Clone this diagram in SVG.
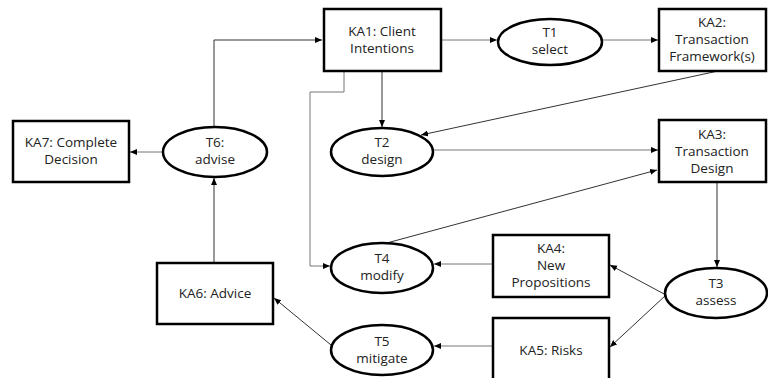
<svg xmlns="http://www.w3.org/2000/svg" width="768" height="378" viewBox="0 0 768 378">
<defs>
<marker id="ah" markerWidth="8" markerHeight="8" refX="7" refY="4" orient="auto" markerUnits="userSpaceOnUse">
<path d="M0,1 L7,4 L0,7 Z" fill="#000"/>
</marker>
<style>
.box{fill:#fff;stroke:#000;stroke-width:2.5}
.ell{fill:#fff;stroke:#000;stroke-width:2.5}
.t{font-family:"Open Sans","Liberation Sans",Arial,sans-serif;font-size:13.5px;fill:#222;text-anchor:middle}
.c{fill:none;stroke:#333;stroke-width:1;marker-end:url(#ah)}
.g{stroke:#777}
</style>
</defs>
<rect width="768" height="378" fill="#fff"/>
<g id="connectors">
<path class="c" d="M214,127 V40 H322"/>
<path class="c g" d="M441,40 H497"/>
<path class="c g" d="M602,40 H658"/>
<path class="c" d="M382,71 V127"/>
<path class="c" d="M718,71 L421,135"/>
<path class="c g" d="M433,150 H658"/>
<path class="c g" d="M344,71 V92 H310 V266 H330"/>
<path class="c" d="M383,244 L657,170"/>
<path class="c" d="M717,182 V267"/>
<path class="c" d="M666,295 L610,265"/>
<path class="c" d="M666,295 L610,347"/>
<path class="c g" d="M493,264 H434"/>
<path class="c g" d="M493,346 H434"/>
<path class="c" d="M331,345 L274,298"/>
<path class="c" d="M214,263 V178"/>
<path class="c g" d="M163,152 H130"/>
</g>
<g id="KA1"><rect class="box" x="324" y="9" width="117" height="62"/><text class="t" x="382" y="36">KA1: Client</text><text class="t" x="382" y="53">Intentions</text></g>
<g id="T1"><ellipse class="ell" cx="550" cy="42" rx="52" ry="23"/><text class="t" x="550" y="37">T1</text><text class="t" x="550" y="54">select</text></g>
<g id="KA2"><rect class="box" x="659" y="9" width="107" height="62"/><text class="t" x="712" y="27">KA2:</text><text class="t" x="712" y="44">Transaction</text><text class="t" x="712" y="61">Framework(s)</text></g>
<g id="T2"><ellipse class="ell" cx="382" cy="152" rx="51" ry="24"/><text class="t" x="382" y="147">T2</text><text class="t" x="382" y="164">design</text></g>
<g id="KA3"><rect class="box" x="659" y="120" width="107" height="62"/><text class="t" x="712" y="139">KA3:</text><text class="t" x="712" y="156">Transaction</text><text class="t" x="712" y="173">Design</text></g>
<g id="T4"><ellipse class="ell" cx="382" cy="268" rx="51" ry="25"/><text class="t" x="382" y="263">T4</text><text class="t" x="382" y="280">modify</text></g>
<g id="KA4"><rect class="box" x="493" y="235" width="116" height="62"/><text class="t" x="551" y="253">KA4:</text><text class="t" x="551" y="270">New</text><text class="t" x="551" y="287">Propositions</text></g>
<g id="T3"><ellipse class="ell" cx="716" cy="293" rx="51" ry="25"/><text class="t" x="716" y="288">T3</text><text class="t" x="716" y="305">assess</text></g>
<g id="KA5"><rect class="box" x="493" y="318" width="116" height="72"/><text class="t" x="551" y="355">KA5: Risks</text></g>
<g id="T5"><ellipse class="ell" cx="382" cy="350" rx="51" ry="25"/><text class="t" x="382" y="346">T5</text><text class="t" x="382" y="363">mitigate</text></g>
<g id="KA6"><rect class="box" x="157" y="263" width="116" height="61"/><text class="t" x="215" y="298">KA6: Advice</text></g>
<g id="T6"><ellipse class="ell" cx="215" cy="152" rx="52" ry="25"/><text class="t" x="215" y="147">T6:</text><text class="t" x="215" y="164">advise</text></g>
<g id="KA7"><rect class="box" x="13" y="121" width="116" height="61"/><text class="t" x="71" y="147">KA7: Complete</text><text class="t" x="71" y="164">Decision</text></g>
</svg>
